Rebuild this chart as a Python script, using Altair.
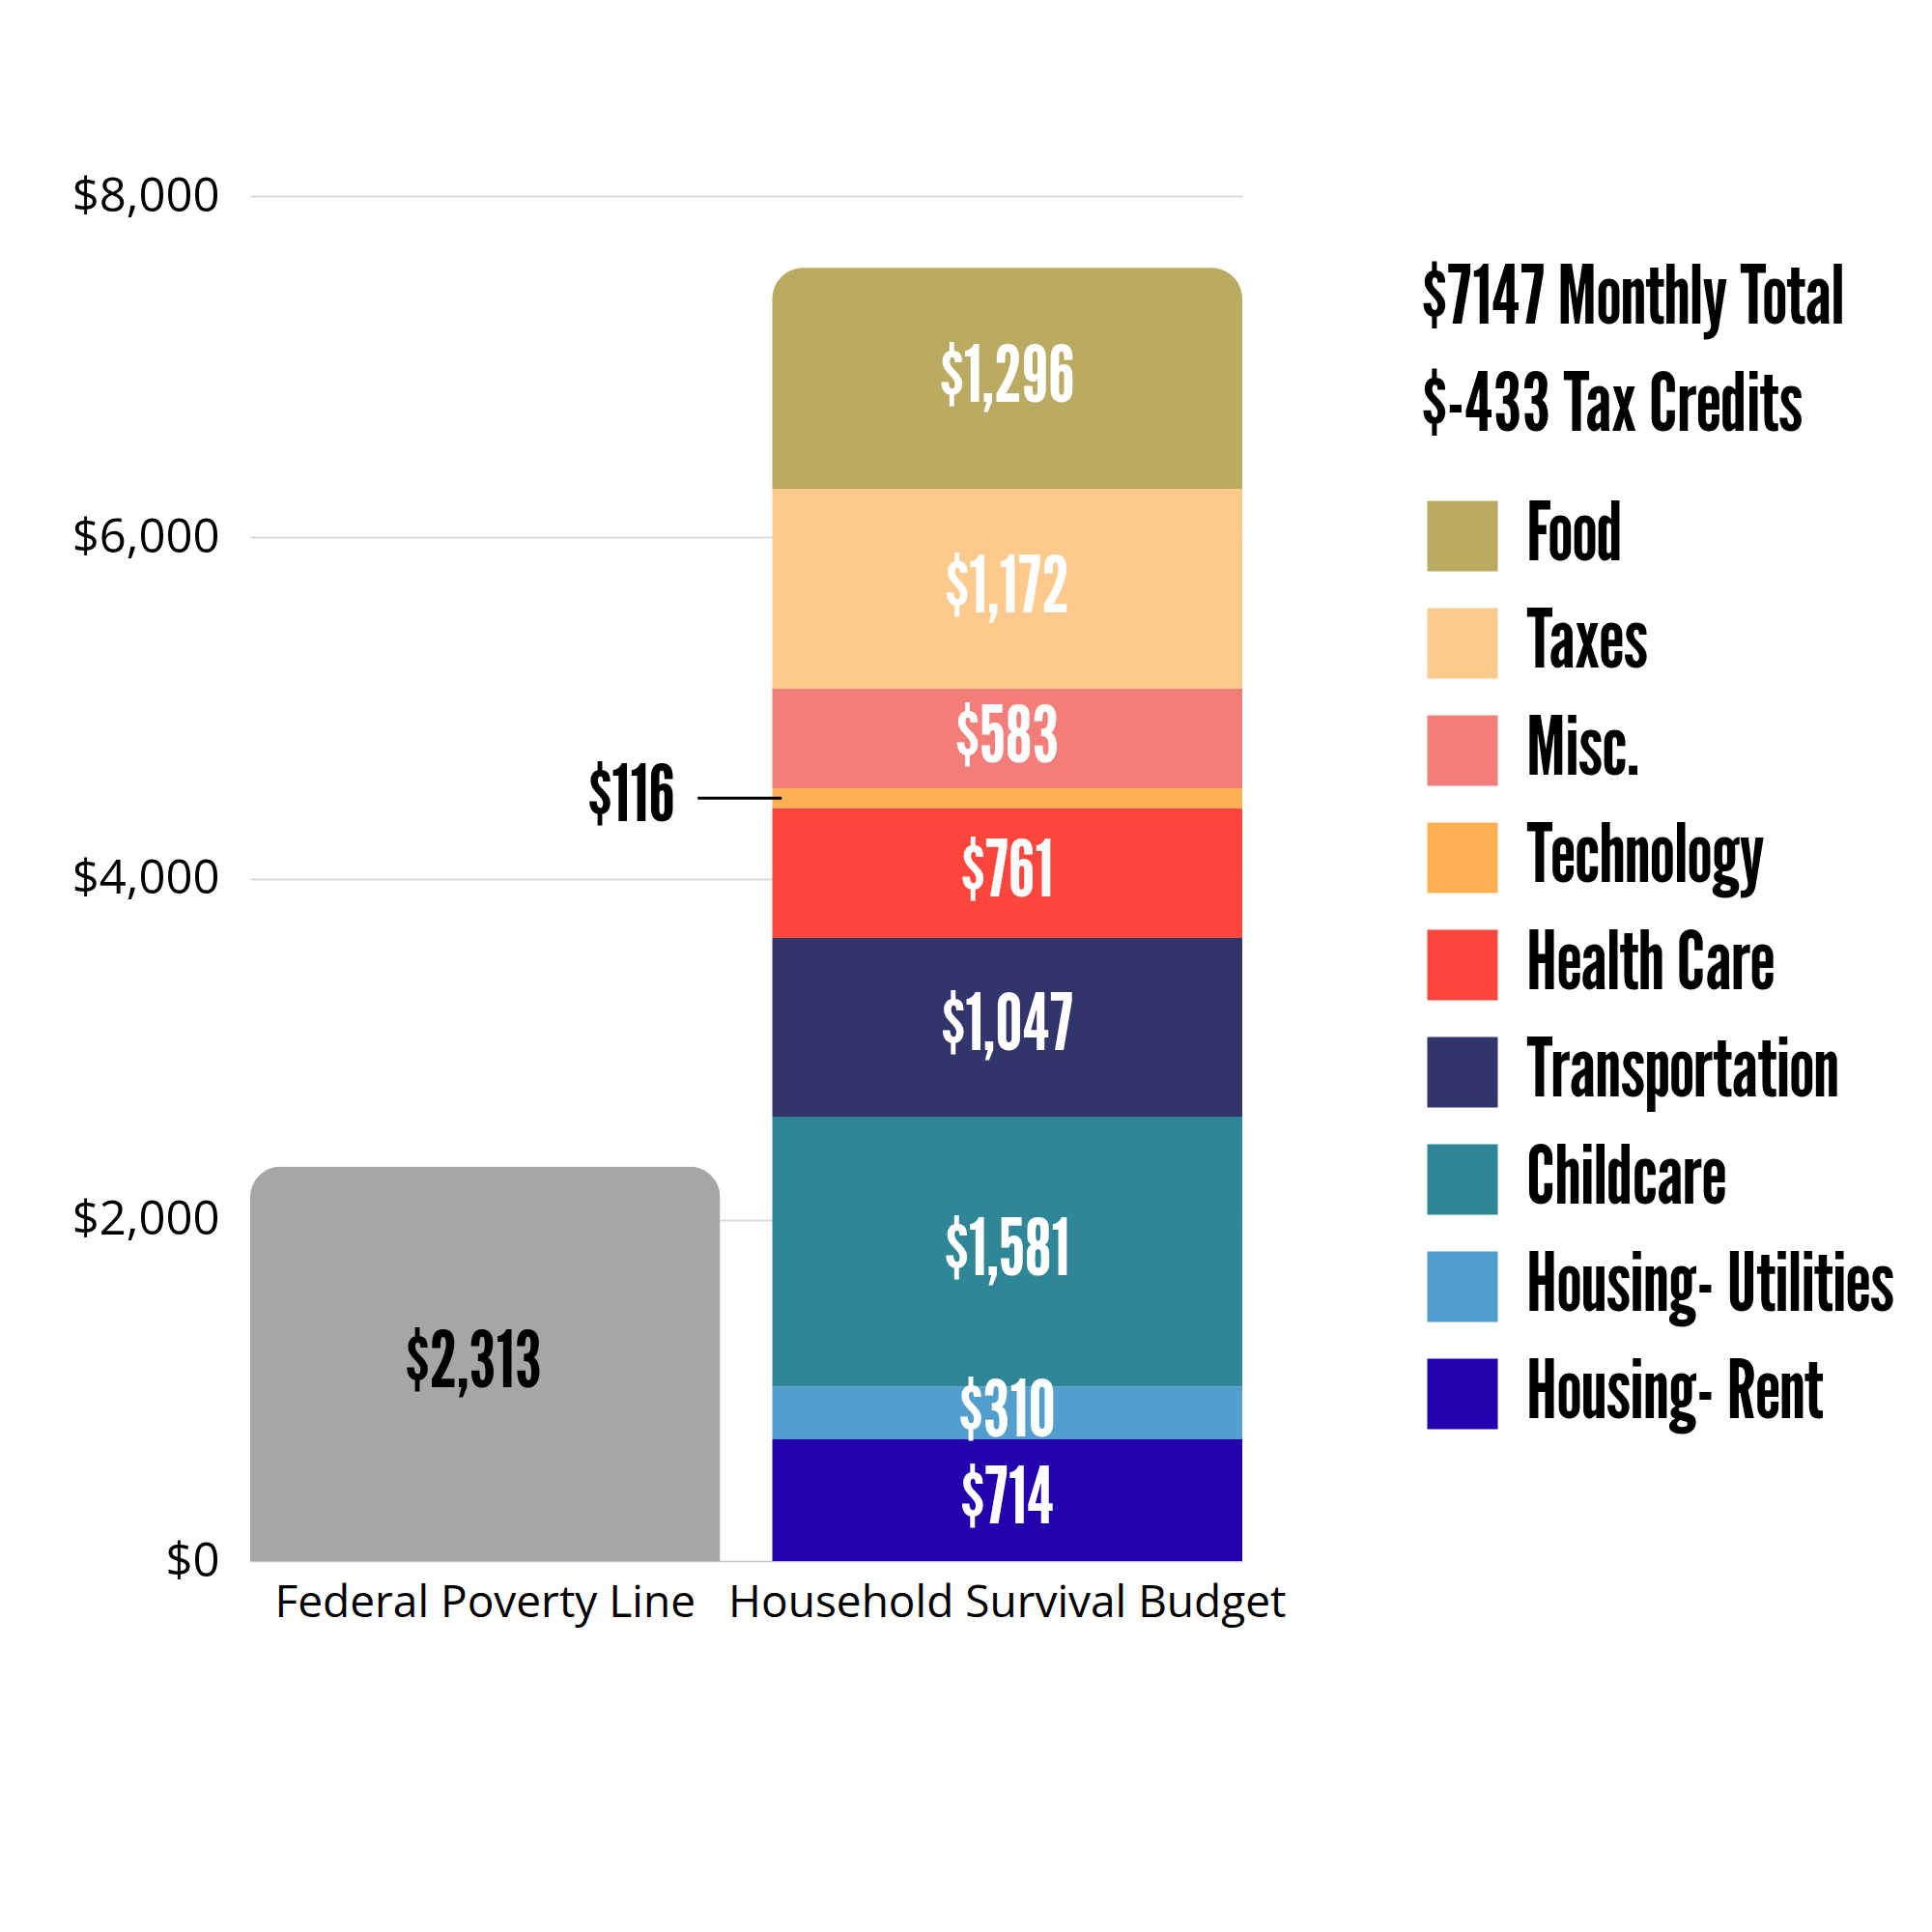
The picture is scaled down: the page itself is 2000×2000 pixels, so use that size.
import altair as alt
import pandas as pd

# ---- data ----
bars = ["Federal Poverty Line", "Household Survival Budget"]
poverty_value = 2313

# bottom to top
categories = ["Housing- Rent", "Housing- Utilities", "Childcare", "Transportation",
              "Health Care", "Technology", "Misc.", "Taxes", "Food"]
values = [714, 310, 1581, 1047, 761, 116, 583, 1172, 1296]
colors = ["#2200AE", "#529ECF", "#2E8697", "#32356B",
          "#FF463D", "#FFB151", "#F37E79", "#FDC98D", "#BBAA62"]

legend_title = ["$7147 Monthly Total", "$-433 Tax Credits"]
outside_label_category = "Technology"

# ---- derived tables ----
starts, ends = [], []
acc = 0
for v in values:
    starts.append(acc)
    acc += v
    ends.append(acc)

seg = pd.DataFrame({
    "bar": bars[1],
    "category": categories,
    "value": values,
    "start": starts,
    "end": ends,
    "mid": [(s + e) / 2 for s, e in zip(starts, ends)],
    "is_top": [i == len(categories) - 1 for i in range(len(categories))],
    "label": ["${:,}".format(v) for v in values],
})
pov = pd.DataFrame({"bar": [bars[0]], "value": [poverty_value],
                    "mid": [poverty_value / 2], "label": ["${:,}".format(poverty_value)]})

legend_order = categories[::-1]
legend_colors = colors[::-1]

COND = "League Gothic, Oswald, sans-serif"
REG = "Open Sans, Lato, sans-serif"

x_enc = alt.X("bar:N", sort=bars, scale=alt.Scale(domain=bars, paddingInner=0.1, paddingOuter=0),
              axis=alt.Axis(title=None, labelAngle=0, labelFont=REG, labelFontSize=46,
                            labelColor="black", ticks=False, labelPadding=21, labelLimit=1000,
                            domain=True, domainColor="#C8C8C8", domainWidth=1, grid=False))
y_scale = alt.Scale(domain=[0, 8000], nice=False)
y_axis = alt.Axis(title=None, values=[0, 2000, 4000, 6000, 8000], format="$,.0f",
                  labelFont=REG, labelFontSize=49, labelColor="black", ticks=False,
                  labelPadding=32, domain=False, grid=True, gridColor="#DADADA", gridWidth=2)

color_scale = alt.Scale(domain=legend_order, range=legend_colors)
legend = alt.Legend(
    title=legend_title, orient="none", legendX=1213, legendY=66,
    titleFont=COND, titleFontSize=84, titleFontWeight="normal", titleColor="black",
    titleLineHeight=111, titleAnchor="start", titleLimit=800, titlePadding=49,
    labelFont=COND, labelFontSize=84, labelFontWeight="normal", labelColor="black",
    labelLimit=800, labelOffset=24, symbolType="square", symbolSize=5329,
    symbolStrokeWidth=0, symbolOpacity=1, rowPadding=27,
)

base_seg = alt.Chart(seg)

poverty_bar = alt.Chart(pov).mark_bar(
    color="#A6A6A6", cornerRadiusTopLeft=32, cornerRadiusTopRight=32
).encode(x=x_enc, y=alt.Y("value:Q", scale=y_scale, axis=y_axis))

lower_segs = base_seg.transform_filter("!datum.is_top").mark_bar().encode(
    x=x_enc,
    y=alt.Y("start:Q", scale=y_scale, axis=y_axis),
    y2="end:Q",
    color=alt.Color("category:N", scale=color_scale, legend=legend),
)

top_seg = base_seg.transform_filter("datum.is_top").mark_bar(
    cornerRadiusTopLeft=32, cornerRadiusTopRight=32
).encode(
    x=x_enc,
    y=alt.Y("start:Q", scale=y_scale, axis=y_axis),
    y2="end:Q",
    color=alt.Color("category:N", scale=color_scale, legend=legend),
)

seg_labels = base_seg.transform_filter(
    alt.datum.category != outside_label_category
).mark_text(font=COND, fontSize=80, color="white", baseline="middle").encode(
    x=x_enc, y=alt.Y("mid:Q", scale=y_scale), text="label:N"
)

pov_label = alt.Chart(pov).mark_text(
    font=COND, fontSize=80, color="black", baseline="middle", dx=-12
).encode(x=x_enc, y=alt.Y("mid:Q", scale=y_scale), text="label:N")

out_text = base_seg.transform_filter(
    alt.datum.category == outside_label_category
).mark_text(font=COND, fontSize=80, color="black",
            baseline="middle", dx=-389).encode(
    x=x_enc, y=alt.Y("mid:Q", scale=y_scale), text="label:N"
)

out_tick = base_seg.transform_filter(
    alt.datum.category == outside_label_category
).mark_tick(orient="horizontal", size=87, thickness=3, color="black",
            opacity=1, xOffset=-277).encode(
    x=x_enc, y=alt.Y("mid:Q", scale=y_scale)
)

chart = alt.layer(
    poverty_bar, lower_segs, top_seg, seg_labels, pov_label, out_text, out_tick
).properties(
    width=1027, height=1413,
    autosize=alt.AutoSizeParams(type="none"),
    padding={"left": 251, "top": 195, "right": 706, "bottom": 376},
).configure(background="white").configure_view(strokeWidth=0, stroke="transparent")

chart.save("out.html", embed_options={"renderer": "svg", "actions": False})
